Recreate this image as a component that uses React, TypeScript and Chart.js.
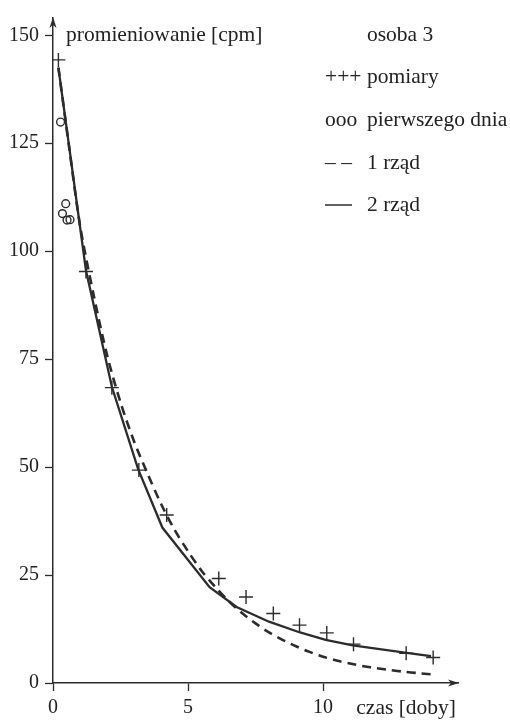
import { useEffect, useRef } from "react";
import { Chart, registerables } from "chart.js";

Chart.register(...registerables);

// ---- data ----
const measDays = [0.2, 1.22, 2.18, 3.18, 4.21, 6.14, 7.15, 8.16, 9.13, 10.14, 11.13, 13.08, 14.08];
const measCpm = [144.3, 95.3, 68.4, 49.3, 38.9, 24.2, 19.9, 16.1, 13.4, 11.6, 9.0, 6.9, 5.9];

const firstDayDays = [0.28, 0.47, 0.35, 0.52, 0.63];
const firstDayCpm = [129.9, 111.0, 108.7, 107.2, 107.3];

const order1Days = [0.2, 0.6, 1.0, 1.5, 2.0, 2.5, 3.0, 3.5, 4.0, 4.5, 5.0, 5.5, 6.0, 6.5, 7.0, 7.5, 8.0, 8.5, 9.0, 9.5, 10.0, 10.5, 11.0, 11.5, 12.0, 12.5, 13.0, 13.5, 14.0];
const order1Cpm = [142.5, 124, 106, 90, 76, 65, 56, 48.5, 41.5, 35.5, 30.5, 26, 22.3, 19, 16.2, 13.8, 11.7, 10, 8.5, 7.2, 6.1, 5.2, 4.5, 3.9, 3.4, 3.0, 2.6, 2.3, 2.0];

const order2Days = [0.2, 1.22, 2.18, 3.15, 4.05, 5.8, 6.8, 8.0, 9.15, 10.1, 11.1, 13.1, 14.0];
const order2Cpm = [142.5, 95.6, 68.6, 49.6, 36.0, 22.2, 17.6, 14.2, 11.7, 10.0, 8.7, 7.0, 6.2];

const xTickValues = [0, 5, 10];
const yTickValues = [0, 25, 50, 75, 100, 125, 150];

const yAxisTitle = "promieniowanie [cpm]";
const xAxisTitle = "czas [doby]";
const legendTitle = "osoba 3";
const legendSymbols = ["+++", "ooo", "– –", "—"];
const legendLabels = ["pomiary", "pierwszego dnia", "1 rząd", "2 rząd"];

const INK = "#222222";
const LINE = "#2c2c2c";
const FONT = "'Liberation Serif', 'Times New Roman', serif";

const toPoints = (xs: number[], ys: number[]) => xs.map((x, i) => ({ x, y: ys[i] }));

const decorPlugin = {
  id: "decor",
  afterDraw(chart: any) {
    const ctx = chart.ctx as CanvasRenderingContext2D;
    const xs = chart.scales.x;
    const ys = chart.scales.y;
    const x0 = xs.getPixelForValue(0);
    const y0 = ys.getPixelForValue(0);
    const xEnd = xs.getPixelForValue(15);
    const yEnd = ys.getPixelForValue(154);
    ctx.save();
    ctx.fillStyle = LINE;
    // arrow heads
    ctx.beginPath();
    ctx.moveTo(xEnd + 1, y0);
    ctx.lineTo(xEnd - 10, y0 - 3.5);
    ctx.lineTo(xEnd - 7, y0);
    ctx.lineTo(xEnd - 10, y0 + 3.5);
    ctx.closePath();
    ctx.fill();
    ctx.beginPath();
    ctx.moveTo(x0, yEnd - 1);
    ctx.lineTo(x0 - 3.5, yEnd + 10);
    ctx.lineTo(x0, yEnd + 7);
    ctx.lineTo(x0 + 3.5, yEnd + 10);
    ctx.closePath();
    ctx.fill();

    // axis titles
    ctx.fillStyle = INK;
    ctx.font = `21.5px ${FONT}`;
    ctx.textBaseline = "alphabetic";
    ctx.textAlign = "left";
    ctx.fillText(yAxisTitle, x0 + 13, ys.getPixelForValue(150) + 6);
    ctx.textAlign = "right";
    ctx.fillText(xAxisTitle, xEnd - 2, y0 + 31);

    // legend
    ctx.textAlign = "left";
    const symX = 325;
    const txtX = 367;
    ctx.fillText(legendTitle, txtX, 41);
    const baseY = [83, 126, 168.5, 211];
    for (let i = 0; i < legendLabels.length; i++) {
      const by = baseY[i];
      if (i === 3) {
        ctx.strokeStyle = LINE;
        ctx.lineWidth = 1.5;
        ctx.beginPath();
        ctx.moveTo(symX, by - 6);
        ctx.lineTo(symX + 27, by - 6);
        ctx.stroke();
      } else {
        ctx.fillText(legendSymbols[i], symX, by);
      }
      ctx.fillText(legendLabels[i], txtX, by);
    }
    ctx.restore();
  },
};

export default function App() {
  const ref = useRef<HTMLCanvasElement | null>(null);

  useEffect(() => {
    if (!ref.current) return;
    const tickFont = { family: FONT, size: 20 };
    const chart = new Chart(ref.current, {
      type: "scatter",
      data: {
        datasets: [
          {
            label: "1 rząd",
            data: toPoints(order1Days, order1Cpm),
            showLine: true,
            borderColor: LINE,
            borderWidth: 2.6,
            borderDash: [9, 6],
            pointRadius: 0,
            tension: 0.3,
          },
          {
            label: "2 rząd",
            data: toPoints(order2Days, order2Cpm),
            showLine: true,
            borderColor: LINE,
            borderWidth: 2.3,
            pointRadius: 0,
            tension: 0,
          },
          {
            label: "pomiary",
            data: toPoints(measDays, measCpm),
            pointStyle: "cross",
            pointRadius: 7,
            borderColor: LINE,
            borderWidth: 1.4,
            backgroundColor: "transparent",
          },
          {
            label: "pierwszego dnia",
            data: toPoints(firstDayDays, firstDayCpm),
            pointStyle: "circle",
            pointRadius: 3.9,
            borderColor: LINE,
            borderWidth: 1.4,
            backgroundColor: "transparent",
          },
        ],
      },
      options: {
        animation: false,
        responsive: false,
        layout: { padding: { left: 8, top: 18, right: 52, bottom: 0 } },
        plugins: { legend: { display: false }, tooltip: { enabled: false } },
        scales: {
          x: {
            type: "linear",
            min: 0,
            max: 15,
            afterFit: (s: any) => {
              s.height = 40;
            },
            afterBuildTicks: (s: any) => {
              s.ticks = xTickValues.map((v) => ({ value: v }));
            },
            ticks: { font: tickFont, color: INK, padding: 5, maxRotation: 0 },
            grid: { drawOnChartArea: false, drawTicks: true, tickLength: 8, tickColor: LINE, tickWidth: 1.3 },
            border: { display: true, color: LINE, width: 1.5 },
          },
          y: {
            type: "linear",
            min: 0,
            max: 154,
            afterFit: (s: any) => {
              s.width = 45;
            },
            afterBuildTicks: (s: any) => {
              s.ticks = yTickValues.map((v) => ({ value: v }));
            },
            ticks: { font: tickFont, color: INK, padding: 6 },
            grid: { drawOnChartArea: false, drawTicks: true, tickLength: 8, tickColor: LINE, tickWidth: 1.3 },
            border: { display: true, color: LINE, width: 1.5 },
          },
        },
      },
      plugins: [decorPlugin],
    });
    return () => chart.destroy();
  }, []);

  return (
    <div style={{ position: "fixed", left: 0, top: 0, width: 510, height: 723, background: "#fff" }}>
      <canvas ref={ref} width={510} height={723} style={{ display: "block", width: 510, height: 723 }} />
    </div>
  );
}
